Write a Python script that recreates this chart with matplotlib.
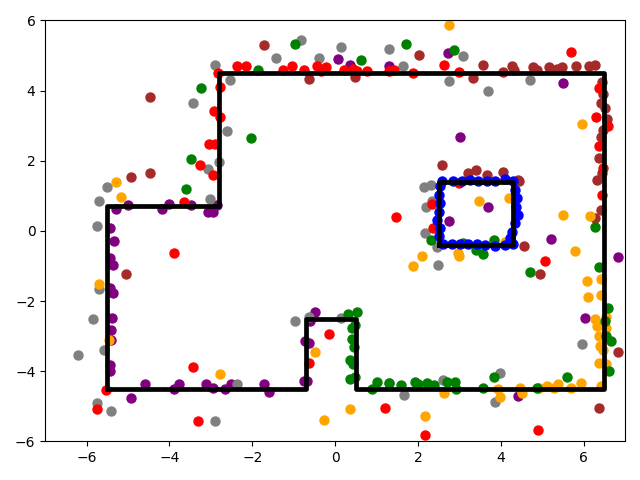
import numpy as np
import matplotlib
matplotlib.use('Agg')
import matplotlib.pyplot as plt

# walls of the room and the box inside it
room = [(-5.5,-4.5),(-0.7,-4.5),(-0.7,-2.5),(0.5,-2.5),(0.5,-4.5),(6.5,-4.5),(6.5,4.5),
        (-2.8,4.5),(-2.8,0.7),(-5.5,0.7),(-5.5,-4.5)]
box = [(2.5,-0.4),(4.3,-0.4),(4.3,1.4),(2.5,1.4),(2.5,-0.4)]

purple_pts = [(-5.28,0.62),(-4.99,0.73),(-4.19,0.62),(-4.02,0.77),(-3.49,0.73),(-3.06,0.53),(-2.95,0.53),
    (-2.84,0.73),(-5.44,0.07),(-5.34,-0.29),(-5.44,-0.78),(-5.37,-0.98),(-5.44,-1.64),(-5.37,-1.78),
    (-5.39,-2.49),(-5.41,-2.84),(-5.41,-3.12),(-5.44,-3.83),(-5.44,-4.01),(-4.92,-4.78),(-4.58,-4.37),
    (-3.90,-4.52),(-3.76,-4.37),(-3.11,-4.37),(-2.96,-4.49),(-2.67,-4.52),(-2.51,-4.37),(-1.71,-4.37),
    (-1.59,-4.59),(-0.48,-2.32),(-0.60,-2.57),(-0.72,-3.14),(-0.62,-3.21),(-0.76,-4.29),(-0.67,-4.29),
    (0.06,4.91),(0.37,4.73),(1.31,4.71),(2.73,5.08),(5.51,4.22),(3.02,2.69),(3.68,0.68),(2.76,0.28),
    (5.22,-0.24),(6.84,-0.75),(6.04,-2.49),(4.42,-4.72)]

gray_pts = [(-2.91,4.74),(-2.53,4.31),(-3.44,3.65),(-2.62,2.85),(-2.80,1.96),(-3.06,1.76),(-5.50,1.25),
    (-5.69,0.85),(-3.03,0.91),(-5.74,0.13),(-5.71,-1.65),(-5.85,-2.52),(-6.22,-3.55),(-5.59,-3.41),
    (-5.74,-4.92),(-5.40,-5.15),(-2.91,-5.41),(-2.38,-4.38),(-0.83,5.43),(-1.42,4.93),(-0.38,4.93),
    (0.15,5.25),(1.29,5.19),(1.65,4.71),(3.10,4.99),(2.76,4.28),(3.70,3.99),(4.71,4.31),(2.15,1.25),
    (2.31,1.31),(2.20,0.69),(2.33,0.84),(2.18,-0.07),(2.47,-0.45),(2.49,-0.97),(5.97,-3.24),(1.67,-4.67),
    (2.61,-4.24),(3.99,-4.06),(3.87,-4.89),(1.29,-4.35),(-0.98,-2.58),(-0.64,-2.45),(0.14,-2.48)]

brown_pts = [(-4.48,3.82),(-4.46,1.65),(-4.92,1.53),(-5.06,-1.24),(-1.71,5.31),(-0.62,4.33),(0.49,4.39),
    (2.03,5.02),(3.34,4.36),(3.56,4.73),(4.06,4.53),(4.28,4.69),(4.33,4.59),(4.79,4.66),(4.87,4.60),
    (5.17,4.66),(5.37,4.63),(5.49,4.66),(5.82,4.69),(6.13,4.69),(6.27,4.73),(6.44,4.25),(6.46,3.91),
    (6.42,3.65),(6.52,3.51),(6.57,3.20),(6.48,2.89),(6.42,2.68),(6.38,2.08),(6.44,1.65),(6.33,1.46),
    (6.43,0.59),(6.28,0.37),(4.95,-1.22),(6.84,-3.44),(6.38,-5.04),(2.59,1.89),(3.22,1.65),(3.40,1.74),
    (3.66,1.60),(4.06,1.67),(4.42,1.46),(4.43,1.41),(4.55,-0.44)]

red_pts = [(-2.82,4.51),(-2.38,4.69),(-2.14,4.71),(-2.77,4.11),(-2.92,3.42),(-2.79,3.25),(-3.04,2.48),
    (-2.90,2.48),(-3.26,1.88),(-2.94,1.59),(-3.66,0.81),(-3.88,-0.64),(-3.42,-3.89),(-5.53,-4.55),
    (-5.74,-5.09),(-3.32,-5.41),(-1.25,4.59),(-1.03,4.69),(-0.74,4.59),(-0.43,4.69),(-0.35,4.57),
    (-0.22,4.66),(0.22,4.59),(0.42,4.63),(0.54,4.57),(0.78,4.57),(1.29,4.55),(1.43,4.59),(1.89,4.51),
    (2.64,4.73),(3.00,4.53),(5.70,5.11),(6.37,4.08),(6.31,3.25),(6.60,2.99),(6.37,2.42),(6.48,1.79),
    (6.45,1.02),(5.08,-0.87),(2.98,1.36),(2.34,0.77),(2.37,0.08),(1.47,0.40),(4.91,-5.69),(1.21,-5.04),
    (2.16,-5.81),(-0.14,-2.95),(-0.64,-3.78)]

orange_pts = [(-5.28,1.39),(-5.18,0.96),(-5.71,-1.52),(-5.47,-3.12),(-2.77,-4.09),(2.76,5.88),(5.97,3.05),
    (3.48,0.85),(4.20,0.93),(2.11,-0.72),(1.87,-1.00),(2.96,-0.64),(2.98,-0.71),(4.10,-0.31),(5.51,0.45),
    (6.16,0.42),(5.80,-0.58),(6.09,-1.44),(6.43,-1.38),(6.11,-1.89),(6.43,-1.84),(6.28,-2.52),(6.33,-2.72),
    (6.55,-2.47),(6.55,-2.78),(6.38,-3.01),(6.39,-3.27),(6.48,-3.41),(6.38,-3.78),(6.55,-3.81),(6.43,-4.41),
    (5.94,-4.33),(5.70,-4.49),(5.39,-4.38),(5.29,-4.49),(5.12,-4.41),(4.91,-4.47),(0.35,-5.09),(2.64,-4.61),
    (2.18,-5.27),(3.94,-4.52),(3.97,-4.75),(4.47,-4.47),(4.52,-4.61),(4.92,-4.47),(-0.48,-3.44),(-0.26,-5.38)]

green_pts = [(-3.23,4.08),(-3.47,2.05),(-3.59,1.19),(-1.85,4.59),(-0.96,5.33),(0.63,4.88),(1.72,5.33),
    (-2.04,2.66),(2.86,5.16),(2.32,-0.27),(3.10,-0.35),(3.40,-0.54),(3.56,-0.67),(3.84,-0.25),(4.71,-1.16),
    (6.28,0.12),(6.38,-1.04),(6.60,-2.21),(6.52,-2.58),(6.55,-2.99),(6.65,-3.13),(6.61,-4.01),(5.61,-4.18),
    (4.88,-4.49),(0.88,-4.52),(1.00,-4.32),(1.31,-4.35),(1.58,-4.40),(1.94,-4.32),(1.99,-4.38),(2.23,-4.35),
    (2.38,-4.40),(2.69,-4.32),(2.89,-4.32),(2.91,-4.51),(3.56,-4.47),(3.84,-4.18),(0.32,-2.38),(0.54,-2.32),
    (0.40,-2.78),(0.49,-2.69),(0.40,-3.09),(0.45,-3.31),(0.35,-3.69),(0.44,-3.81),(0.35,-4.21),(0.49,-4.18)]

blue_pts = [(2.59,1.43),(2.84,1.43),(3.06,1.42),(3.26,1.44),(3.46,1.43),(3.66,1.43),(3.86,1.43),(4.10,1.48),
    (4.30,1.43),(2.61,-0.37),(2.82,-0.37),(3.02,-0.37),(3.22,-0.37),(3.42,-0.37),(3.62,-0.39),(3.86,-0.42),
    (4.10,-0.39),(4.30,-0.37),(2.53,1.27),(2.50,1.03),(2.53,0.79),(2.50,0.55),(2.47,0.31),(2.53,0.08),
    (2.50,-0.16),(4.34,1.17),(4.40,0.93),(4.37,0.69),(4.42,0.45),(4.34,0.22),(4.26,-0.02),(4.22,-0.21)]

colors = ['purple','gray','brown','red','orange','green','blue']
all_pts = [purple_pts, gray_pts, brown_pts, red_pts, orange_pts, green_pts, blue_pts]

fig, ax = plt.subplots(figsize=(6.4,4.8))
for pts, c in zip(all_pts, colors):
    pts = np.array(pts)
    ax.scatter(pts[:,0], pts[:,1], color=c, s=42)
for wall in (room, box):
    wall = np.array(wall)
    ax.plot(wall[:,0], wall[:,1], color='black', linewidth=3.4)
ax.set_xlim(-7,7)
ax.set_ylim(-6,6)
plt.tight_layout()
plt.savefig('out.png')
